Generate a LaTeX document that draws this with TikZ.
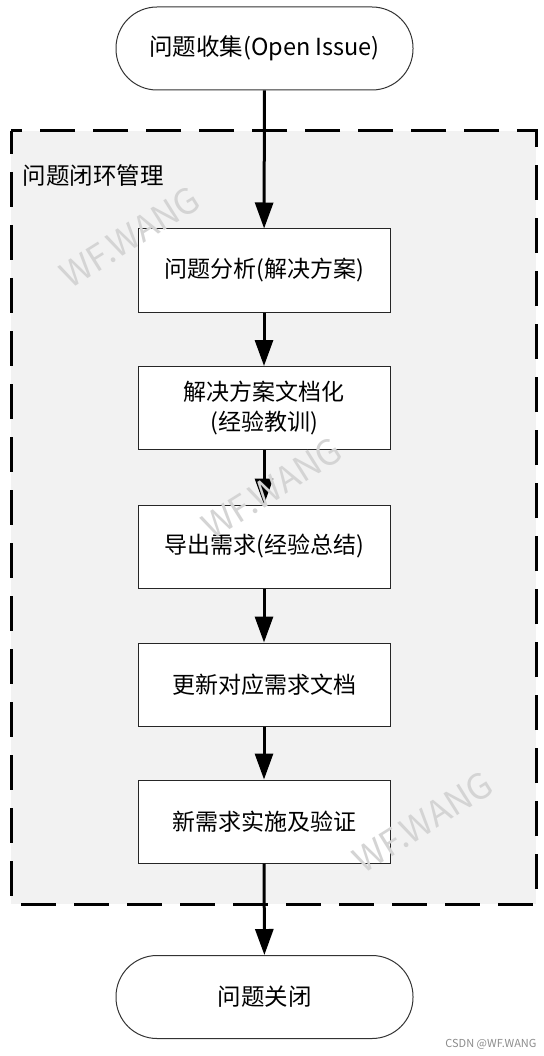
\documentclass[tikz,border=0pt]{standalone}
\usepackage{fontspec}
\setmainfont{Noto Sans CJK SC}
\usetikzlibrary{arrows.meta}
\begin{document}
\begin{tikzpicture}[x=1pt,y=-1pt,
  term/.style={draw=black!80,line width=1pt,fill=white,rounded corners=41pt,minimum width=297pt,minimum height=83pt,inner sep=0pt,font=\fontsize{23.5}{28}\selectfont},
  procbox/.style={draw=black!85,line width=1pt,fill=white,minimum width=252pt,minimum height=83pt,inner sep=0pt,align=center,font=\fontsize{23}{30}\selectfont},
  flow/.style={line width=3pt,-{Triangle[width=18pt,length=26pt]}},
  frame/.style={draw=black,line width=3pt,dash pattern=on 35pt off 18pt,dash phase=12pt,fill=black!5},
  wmark/.style={text=black!17,font=\fontsize{35}{40}\selectfont,rotate=32}
]
\useasboundingbox (0,0) rectangle (543,1056);
\fill[white] (0,0) rectangle (543,1056);
\draw[frame] (11,131) rectangle (536,904);
\node[anchor=west,font=\fontsize{23.5}{28}\selectfont] (lbl) at (19,176) {问题闭环管理};
\node[term] (start) at (264.5,48.5) {问题收集(Open Issue)};
\node[procbox] (b1) at (264,270.5) {问题分析(解决方案)};
\node[procbox] (b2) at (264,408) {解决方案文档化\\(经验教训)};
\node[procbox] (b3) at (264,546.5) {导出需求(经验总结)};
\node[procbox] (b4) at (264,684.5) {更新对应需求文档};
\node[procbox] (b5) at (264,821.5) {新需求实施及验证};
\node[term] (stop) at (264.5,997) {问题关闭};
\draw[flow] (start) -- (b1);
\draw[flow] (b1) -- (b2);
\draw[flow] (b2) -- (b3);
\draw[flow] (b3) -- (b4);
\draw[flow] (b4) -- (b5);
\draw[flow] (b5) -- (stop);
\node[wmark] (w1) at (130,237) {WF.WANG};
\node[wmark] (w2) at (272,488) {WF.WANG};
\node[wmark] (w3) at (423,822) {WF.WANG};
\node[anchor=east,text=black!45,font=\fontsize{11}{13}\selectfont] (csdn) at (540,1044) {CSDN @WF.WANG};
\end{tikzpicture}
\end{document}
